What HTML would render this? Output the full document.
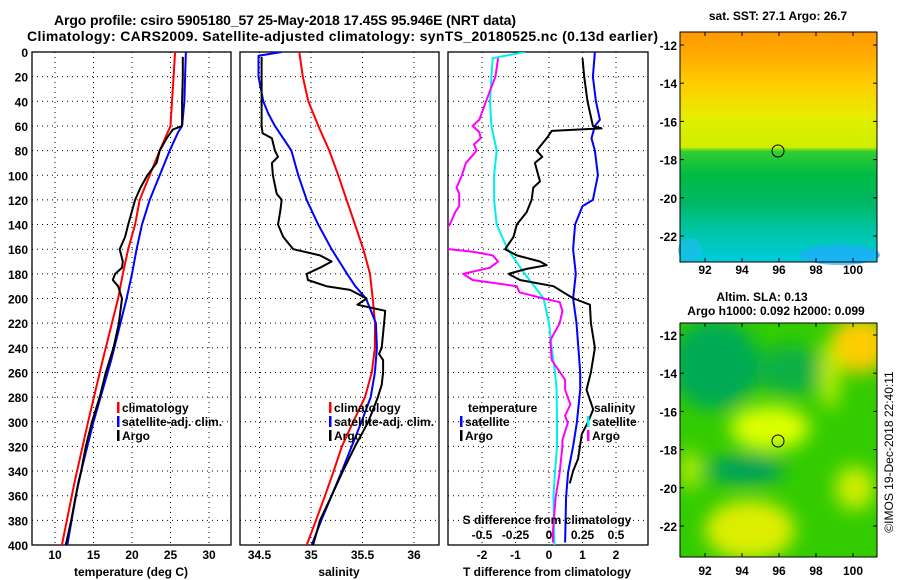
<!DOCTYPE html>
<html><head><meta charset="utf-8"><style>
html,body{margin:0;padding:0;background:#fff;}
svg{display:block;font-family:"Liberation Sans",Arial,sans-serif;}
.t{font-weight:bold;font-size:12px;fill:#000;}
.ttl{font-weight:bold;font-size:14px;fill:#000;}
</style></head><body>
<svg id="chart" width="900" height="580" viewBox="0 0 900 580" xmlns="http://www.w3.org/2000/svg">
<defs>
<clipPath id="c1"><rect x="32" y="52" width="199" height="493"/></clipPath>
<clipPath id="c2"><rect x="240" y="52" width="199" height="493"/></clipPath>
<clipPath id="c3"><rect x="448" y="52" width="200" height="493"/></clipPath>
<clipPath id="cm2"><rect x="680" y="323" width="197" height="234"/></clipPath>
<linearGradient id="sstg" x1="0" y1="0" x2="0" y2="1">
<stop offset="0" stop-color="#ff9a00"/><stop offset="0.1" stop-color="#ffaa00"/>
<stop offset="0.22" stop-color="#ffcc00"/><stop offset="0.38" stop-color="#e8ee00"/>
<stop offset="0.5" stop-color="#ccee00"/><stop offset="0.52" stop-color="#33cc33"/>
<stop offset="0.62" stop-color="#00bb44"/><stop offset="0.75" stop-color="#00b866"/>
<stop offset="0.85" stop-color="#00c4a0"/><stop offset="1" stop-color="#00ccdd"/>
</linearGradient>
<filter id="blur" x="-50%" y="-50%" width="200%" height="200%"><feGaussianBlur stdDeviation="9"/></filter>
</defs>
<text class="ttl" x="285" y="25" text-anchor="middle" textLength="462">Argo profile: csiro 5905180_57 25-May-2018 17.45S 95.946E (NRT data)</text>
<text class="ttl" x="27" y="41" textLength="631">Climatology: CARS2009. Satellite-adjusted climatology: synTS_20180525.nc (0.13d earlier)</text>

<g>
<rect x="680" y="32" width="197" height="230" fill="url(#sstg)"/>
<rect x="680" y="118" width="197" height="30" fill="#d4ee00" opacity="0.5"/>
<ellipse cx="840" cy="255" rx="40" ry="10" fill="#22aaff" opacity="0.7"/>
<ellipse cx="690" cy="250" rx="12" ry="12" fill="#22bbee" opacity="0.6"/>
<circle cx="778" cy="151" r="6" fill="none" stroke="#000" stroke-width="1"/>
<rect x="680" y="32" width="197" height="230" fill="none" stroke="#000"/>
</g>
<text class="t" x="778" y="20" text-anchor="middle">sat. SST: 27.1 Argo: 26.7</text>

<g>
<rect x="680" y="323" width="197" height="234" fill="#33cc00"/>
<g clip-path="url(#cm2)" filter="url(#blur)">
<ellipse cx="715" cy="365" rx="45" ry="45" fill="#00aa55"/>
<ellipse cx="790" cy="370" rx="35" ry="25" fill="#11b044"/>
<ellipse cx="745" cy="470" rx="40" ry="14" fill="#00a060"/>
<ellipse cx="770" cy="428" rx="40" ry="22" fill="#ddff00"/>
<ellipse cx="860" cy="345" rx="30" ry="28" fill="#ffcc00"/>
<ellipse cx="830" cy="375" rx="10" ry="35" fill="#bbee00"/>
<ellipse cx="750" cy="530" rx="45" ry="30" fill="#ddee00"/>
<ellipse cx="855" cy="488" rx="20" ry="22" fill="#ccee00"/>
<ellipse cx="690" cy="470" rx="10" ry="20" fill="#bbee00"/>
</g>
<circle cx="778" cy="441" r="6" fill="none" stroke="#000" stroke-width="1"/>
<rect x="680" y="323" width="197" height="234" fill="none" stroke="#000"/>
</g>
<text class="t" x="762" y="301" text-anchor="middle">Altim. SLA: 0.13</text>
<text class="t" x="776" y="315" text-anchor="middle">Argo h1000: 0.092 h2000: 0.099</text>
<text x="893" y="452" font-size="12" text-anchor="middle" transform="rotate(-90 893 452)">©IMOS 19-Dec-2018 22:40:11</text>
<g id="dyn"></g>
</svg>
<script>
const depthTicks = [0,20,40,60,80,100,120,140,160,180,200,220,240,260,280,300,320,340,360,380,400];
const tempTicks = [10,15,20,25,30];
const salTicks = [34.5,35,35.5,36];
const tdiffTicks = [-2,-1,0,1,2];
const sdiffTicks = [-0.5,-0.25,0,0.25,0.5];
const latTicks = [-12,-14,-16,-18,-20,-22];
const lonTicks = [92,94,96,98,100];

const tClimDepth = [0,20,40,60,80,100,120,140,160,180,200,250,300,350,400];
const tClim = [25.6,25.4,25.2,25.0,23.6,22.3,21.0,20.4,19.5,18.8,18.2,16.2,14.3,12.5,10.9];
const tSatDepth = [0,20,40,60,65,80,100,120,140,160,180,200,250,300,350,400];
const tSat = [27.0,26.9,26.8,26.5,26.0,24.9,23.6,22.3,21.3,20.6,20.0,19.3,17.3,15.0,13.0,11.6];
const tArgoDepth = [4,20,40,60,63,70,80,90,100,110,120,140,150,160,170,175,180,185,190,200,220,240,260,280,300,320,340,360,380,400];
const tArgo = [26.6,26.6,26.5,26.5,25.3,24.5,23.6,23.2,22.0,21.1,20.4,19.5,19.1,18.4,18.8,18.7,17.8,17.5,18.2,18.7,18.3,17.6,16.6,15.8,14.8,14.0,13.4,12.7,12.1,11.4];

const sClimDepth = [0,20,40,60,80,100,120,140,160,180,200,220,240,260,280,300,320,340,360,380,400];
const sClim = [34.886,34.92,34.974,35.071,35.178,35.265,35.346,35.427,35.508,35.573,35.599,35.621,35.62,35.59,35.524,35.41,35.30,35.22,35.136,35.049,34.958];
const sSatDepth = [0,3,20,40,50,60,70,80,100,120,140,160,180,190,200,220,240,260,280,300,320,340,360,380,400];
const sSat = [34.716,34.49,34.49,34.537,34.585,34.65,34.73,34.81,34.877,34.958,35.07,35.2,35.35,35.43,35.534,35.63,35.64,35.62,35.58,35.49,35.395,35.30,35.2,35.10,35.007];
const sArgoDepth = [4,20,60,66,70,80,85,90,100,115,120,130,140,150,160,165,170,175,180,185,190,193,200,205,210,220,240,245,250,260,270,280,300,320,340,360,380,400];
const sArgo = [34.52,34.52,34.52,34.53,34.62,34.65,34.68,34.62,34.63,34.667,34.716,34.70,34.68,34.73,34.828,35.087,35.2,35.087,34.958,34.97,35.15,35.38,35.54,35.45,35.72,35.71,35.686,35.66,35.70,35.70,35.686,35.65,35.556,35.427,35.31,35.2,35.087,35.02];

const dtSatDepth = [0,20,40,55,60,70,80,100,120,125,140,160,180,200,220,260,274,301,320,341,361,398];
const dtSat = [1.37,1.31,1.4,1.52,1.37,1.27,1.37,1.46,1.31,1.0,0.78,0.72,0.8,0.72,0.82,0.93,0.93,0.83,0.72,0.57,0.51,0.48];
const dtArgoDepth = [5,20,40,60,62,64,70,80,85,90,100,105,110,120,130,140,150,160,165,170,173,176,180,185,190,200,205,220,240,260,274,290,300,310,330,340,350];
const dtArgo = [1.0,1.05,1.15,1.31,1.57,0.08,-0.07,-0.37,-0.2,-0.42,-0.32,-0.27,-0.47,-0.52,-0.67,-0.96,-1.06,-1.31,-0.96,-0.27,-0.07,-0.67,-1.21,-0.87,0.13,0.73,1.22,1.25,1.37,1.25,1.12,1.32,1.17,0.98,0.87,0.72,0.62];
const dsSatDepth = [0,5,20,40,60,80,100,120,140,160,180,200,220,240,260,274,300,320,341,361,400];
const dsSat = [-0.18,-0.42,-0.43,-0.44,-0.43,-0.39,-0.41,-0.41,-0.39,-0.31,-0.18,-0.04,0.0,0.02,0.045,0.057,0.06,0.06,0.045,0.033,0.04];
const dsArgoDepth = [5,20,40,55,60,65,70,75,80,85,90,100,110,115,125,130,140,145,150,155,160,162,165,170,175,180,185,190,195,200,203,210,220,234,250,266,274,286,295,301,315,320,330,341,361,388,398];
const dsArgo = [-0.38,-0.40,-0.47,-0.52,-0.57,-0.52,-0.51,-0.56,-0.54,-0.58,-0.62,-0.65,-0.69,-0.67,-0.67,-0.70,-0.74,-0.78,-0.85,-0.85,-0.74,-0.57,-0.42,-0.38,-0.44,-0.64,-0.57,-0.24,-0.22,-0.04,0.08,0.10,0.08,0.01,0.02,0.12,0.12,0.16,0.12,0.14,0.10,0.10,0.09,0.08,0.05,0.03,0.03];

const yD = d => 52 + d * 1.2325;
const xT = t => 55 + (t - 10) * 7.7;
const xS = s => 311 + (s - 35) * 103;
const xDT = v => 549 + v * 33.5;
const xDS = v => 549 + v * 134;
const yLat1 = l => 45 + (-12 - l) * 19.1;
const yLat2 = l => 335 + (-12 - l) * 19.1;
const xLon = l => 705 + (l - 92) * 18.5;

const NS = 'http://www.w3.org/2000/svg';
const root = document.getElementById('dyn');
function mk(tag, attrs, parent) {
  const e = document.createElementNS(NS, tag);
  for (const k in attrs) e.setAttribute(k, attrs[k]);
  (parent || root).appendChild(e);
  return e;
}
function txt(x, y, s, anchor, parent) {
  const e = mk('text', {x: x, y: y, 'text-anchor': anchor || 'middle', 'class': 't'}, parent);
  e.textContent = s;
  return e;
}

const panels = [
  {x0: 32, x1: 231, clip: 'c1', ticks: tempTicks, fx: xT, title: 'temperature (deg C)', tx: 131, name: 'temperature'},
  {x0: 240, x1: 439, clip: 'c2', ticks: salTicks, fx: xS, title: 'salinity', tx: 339, name: 'salinity'},
  {x0: 448, x1: 648, clip: 'c3', ticks: tdiffTicks, fx: xDT, title: 'T difference from climatology', tx: 547, name: 'difference'}
];
panels.forEach((p, pi) => {
  const g = mk('g', {});
  
  
  depthTicks.forEach(d => {
    if (d > 0 && d < 400) {
      const l = mk('line', {x1: p.x0, x2: p.x1, y1: yD(d), y2: yD(d), stroke: '#000', 'stroke-dasharray': '1,4'}, g);
      
      
    }
  });
  p.ticks.forEach(t => {
    const x = p.fx(t);
    const l = mk('line', {x1: x, x2: x, y1: 52, y2: 545, stroke: '#000', 'stroke-dasharray': '1,4'}, g);
    
    
    const tl = txt(x, 559, String(t), 'middle', g);
    
    
  });
  const at = txt(p.tx, 576, p.title, 'middle', g);
  
  
  const b = mk('rect', {x: p.x0, y: 52, width: p.x1 - p.x0, height: 493, fill: 'none', stroke: '#000', 'stroke-width': 1.3}, g);
  
  
});
depthTicks.forEach(d => {
  const tl = txt(28, yD(d) + 5, String(d), 'end');
  
  
});

function series(depths, vals, fx, color, clip, name, w) {
  const pts = depths.map((d, i) => fx(vals[i]).toFixed(1) + ',' + yD(d).toFixed(1)).join(' ');
  const pl = mk('polyline', {points: pts, fill: 'none', stroke: color, 'stroke-width': w || 2, 'clip-path': 'url(#' + clip + ')', 'stroke-linejoin': 'round'});
  
  
}
series(tClimDepth, tClim, xT, '#ff0000', 'c1', 'temperature-climatology-line');
series(tSatDepth, tSat, xT, '#0000ff', 'c1', 'temperature-satellite-line');
series(tArgoDepth, tArgo, xT, '#000000', 'c1', 'temperature-argo-line');
series(sClimDepth, sClim, xS, '#ff0000', 'c2', 'salinity-climatology-line');
series(sSatDepth, sSat, xS, '#0000ff', 'c2', 'salinity-satellite-line');
series(sArgoDepth, sArgo, xS, '#000000', 'c2', 'salinity-argo-line');
series(dsSatDepth, dsSat, xDS, '#00eeee', 'c3', 'salinity-diff-satellite-line');
series(dsArgoDepth, dsArgo, xDS, '#ff00ff', 'c3', 'salinity-diff-argo-line');
series(dtSatDepth, dtSat, xDT, '#0000ff', 'c3', 'temperature-diff-satellite-line');
series(dtArgoDepth, dtArgo, xDT, '#000000', 'c3', 'temperature-diff-argo-line');

const sdt = txt(547, 524, 'S difference from climatology', 'middle');


sdiffTicks.forEach(s => {
  const tl = txt(xDS(s), 539, String(s), 'middle');
  
  
});

function legend(x, y, color, label, name) {
  const g = mk('g', {});
  
  
  if (color) mk('rect', {x: x, y: y - 10, width: 2.5, height: 11, fill: color}, g);
  txt(x + 5, y, label, 'start', g);
}
[['#ff0000','climatology'],['#0000ff','satellite-adj. clim.'],['#000000','Argo']].forEach((e, i) => {
  legend(117, 412 + i * 14, e[0], e[1], 'temperature-legend-entry');
  legend(329, 412 + i * 14, e[0], e[1], 'salinity-legend-entry');
});
legend(463, 412, null, 'temperature', 'diff-legend-temperature-header');
legend(460, 426, '#0000ff', 'satellite', 'diff-legend-temperature-satellite');
legend(460, 440, '#000000', 'Argo', 'diff-legend-temperature-argo');
legend(589, 412, null, 'salinity', 'diff-legend-salinity-header');
legend(587, 426, '#00eeee', 'satellite', 'diff-legend-salinity-satellite');
legend(587, 440, '#ff00ff', 'Argo', 'diff-legend-salinity-argo');

[[yLat1, 32, 262, 274], [yLat2, 323, 557, 575]].forEach((m, mi) => {
  latTicks.forEach(l => {
    const y = m[0](l);
    mk('line', {x1: 680, x2: 684, y1: y, y2: y, stroke: '#000'});
    mk('line', {x1: 873, x2: 877, y1: y, y2: y, stroke: '#000'});
    const tl = txt(677, y + 5, String(l), 'end');
    
    
  });
  lonTicks.forEach(l => {
    const x = xLon(l);
    mk('line', {x1: x, x2: x, y1: m[2] - 4, y2: m[2], stroke: '#000'});
    mk('line', {x1: x, x2: x, y1: m[1], y2: m[1] + 4, stroke: '#000'});
    const tl = txt(x, m[3], String(l), 'middle');
    
    
  });
});
</script>
</body></html>
